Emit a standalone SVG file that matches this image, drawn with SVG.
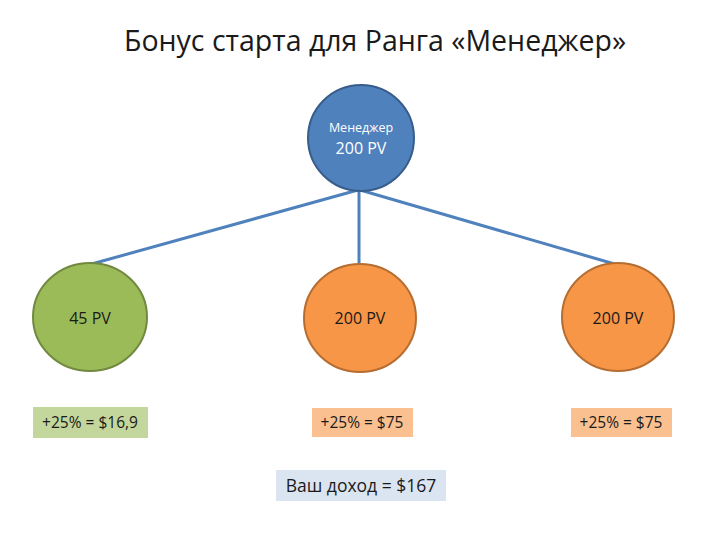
<svg xmlns="http://www.w3.org/2000/svg" width="720" height="540" viewBox="0 0 720 540">
<style>
text{font-family:"Open Sans","Liberation Sans",sans-serif;text-anchor:middle}
.lbl{font-size:15.5px;fill:#1a1a1a}
.node{font-size:16px;fill:#1a1a1a}
.conn{stroke:#4f81bd;stroke-width:3;fill:none}
</style>
<rect width="720" height="540" fill="#ffffff"/>
<text x="375" y="51" style="font-size:28.5px;fill:#1a1a1a">Бонус старта для Ранга «Менеджер»</text>
<g id="connectors">
<line class="conn" x1="358" y1="190" x2="88" y2="265"/>
<line class="conn" x1="359" y1="191" x2="359" y2="264"/>
<line class="conn" x1="360" y1="190" x2="618" y2="265"/>
</g>
<g id="manager">
<ellipse cx="361" cy="138" rx="53" ry="53" fill="#4f81bd" stroke="#385d8a" stroke-width="2"/>
<text x="361" y="132" style="font-size:12.5px;fill:#ffffff">Менеджер</text>
<text x="361" y="154" style="font-size:16px;fill:#ffffff">200 PV</text>
</g>
<g id="left">
<ellipse cx="90" cy="317" rx="57" ry="54" fill="#9bbb59" stroke="#71893f" stroke-width="2"/>
<text class="node" x="90" y="324">45 PV</text>
</g>
<g id="middle">
<ellipse cx="360" cy="318" rx="56" ry="54" fill="#f79646" stroke="#b66d31" stroke-width="2"/>
<text class="node" x="360" y="324">200 PV</text>
</g>
<g id="right">
<ellipse cx="618" cy="317" rx="56" ry="54" fill="#f79646" stroke="#b66d31" stroke-width="2"/>
<text class="node" x="618" y="324">200 PV</text>
</g>
<g id="label-left">
<rect x="33" y="407" width="115" height="31" fill="#c3d69b"/>
<text class="lbl" x="90" y="428">+25% = $16,9</text>
</g>
<g id="label-middle">
<rect x="312" y="408" width="101" height="29" fill="#fac090"/>
<text class="lbl" x="362" y="428">+25% = $75</text>
</g>
<g id="label-right">
<rect x="571" y="408" width="101" height="29" fill="#fac090"/>
<text class="lbl" x="621" y="428">+25% = $75</text>
</g>
<g id="income">
<rect x="276" y="470" width="170" height="31" fill="#dbe5f1"/>
<text x="361" y="492" style="font-size:17.5px;fill:#1a1a1a">Ваш доход = $167</text>
</g>
</svg>
